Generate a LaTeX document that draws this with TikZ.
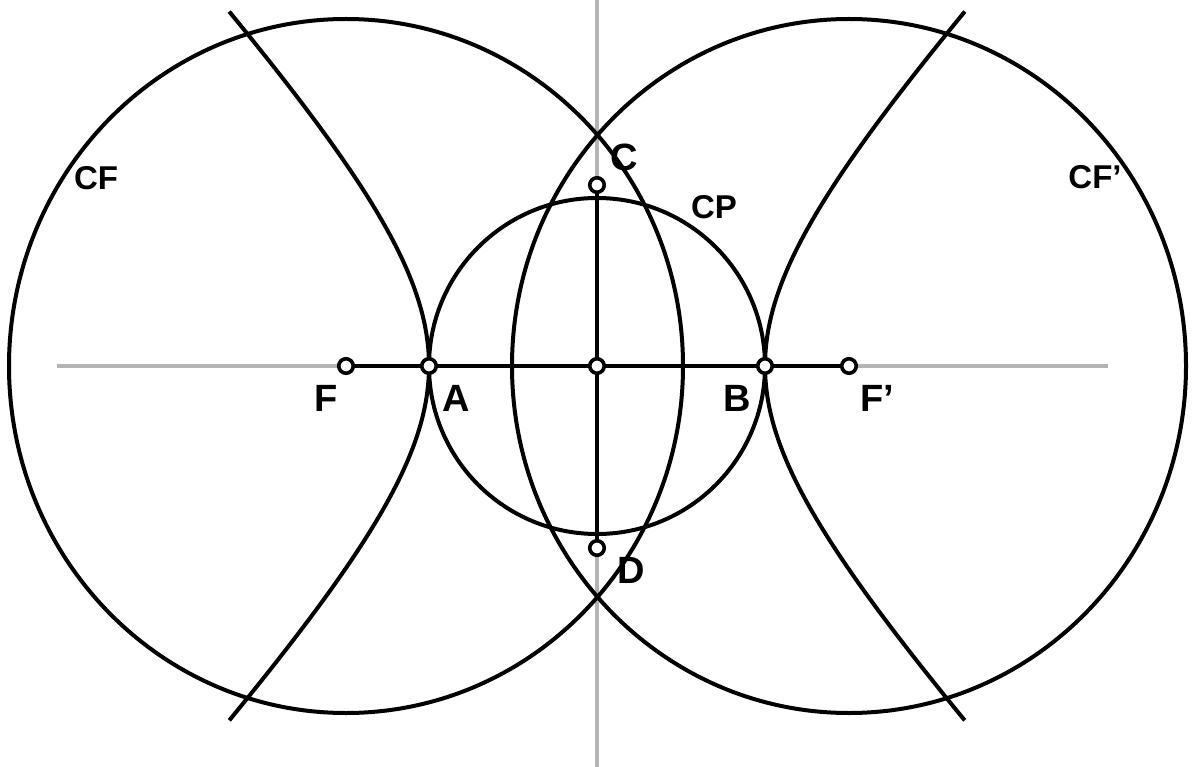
\documentclass[tikz,border=0pt]{standalone}
\usepackage{fontspec}
\setmainfont{Liberation Sans}
\definecolor{axisgray}{RGB}{180,180,180}
\tikzset{
  curve/.style={line width=4pt, black},
  axisline/.style={line width=3.8pt, axisgray},
  seg/.style={line width=4.2pt, black},
  ptmark/.style={circle, draw=black, fill=white, line width=3.6pt, inner sep=0pt, minimum size=14.5pt},
  ptlabel/.style={anchor=base, inner sep=0pt, font=\fontsize{38}{40}\selectfont\bfseries},
  crvlabel/.style={anchor=base, inner sep=0pt, font=\fontsize{33}{35}\selectfont\bfseries}
}
\begin{document}
\begin{tikzpicture}[x=1pt,y=-1pt]
\useasboundingbox (0,0) rectangle (1199,767);
\fill[white] (0,0) rectangle (1199,767);
% key positions
\coordinate (pF) at (346,366);
\coordinate (pA) at (429,366);
\coordinate (pO) at (597,366);
\coordinate (pB) at (765,366);
\coordinate (pFp) at (849,366);
\coordinate (pC) at (597,185);
\coordinate (pD) at (597,548);
\coordinate (axL) at (57,366);
\coordinate (axR) at (1108,366);
\coordinate (axT) at (597,0);
\coordinate (axB) at (597,767);
% axes
\draw[axisline] (axL) -- (axR);
\draw[axisline] (axT) -- (axB);
% focal circles CF and CF'
\draw[curve] (pF) ellipse [x radius=337, y radius=347];
\draw[curve] (pFp) ellipse [x radius=337, y radius=347];
% principal circle CP
\draw[curve] (pO) circle [radius=168];
% hyperbola branches
\draw[curve] plot[domain=-1.42:1.42, samples=90, smooth, variable=\t] ({597-168*cosh(\t)},{366+182*sinh(\t)});
\draw[curve] plot[domain=-1.42:1.42, samples=90, smooth, variable=\t] ({597+168*cosh(\t)},{366+182*sinh(\t)});
% axis segments
\draw[seg] (pF) -- (pFp);
\draw[seg] (pC) -- (pD);
% point markers
\node[ptmark] (F) at (pF) {};
\node[ptmark] (A) at (pA) {};
\node[ptmark] (O) at (pO) {};
\node[ptmark] (B) at (pB) {};
\node[ptmark] (Fp) at (pFp) {};
\node[ptmark] (C) at (pC) {};
\node[ptmark] (D) at (pD) {};
% labels
\node[ptlabel] (lF) at (326,411) {F};
\node[ptlabel] (lA) at (456,411) {A};
\node[ptlabel] (lB) at (737,411) {B};
\node[ptlabel] (lFp) at (877,411) {F’};
\node[ptlabel] (lC) at (624,171) {C};
\node[ptlabel] (lD) at (631,583) {D};
\node[crvlabel] (lCF) at (96,190) {CF};
\node[crvlabel] (lCFp) at (1095,189) {CF’};
\node[crvlabel] (lCP) at (714,219) {CP};
\end{tikzpicture}
\end{document}
